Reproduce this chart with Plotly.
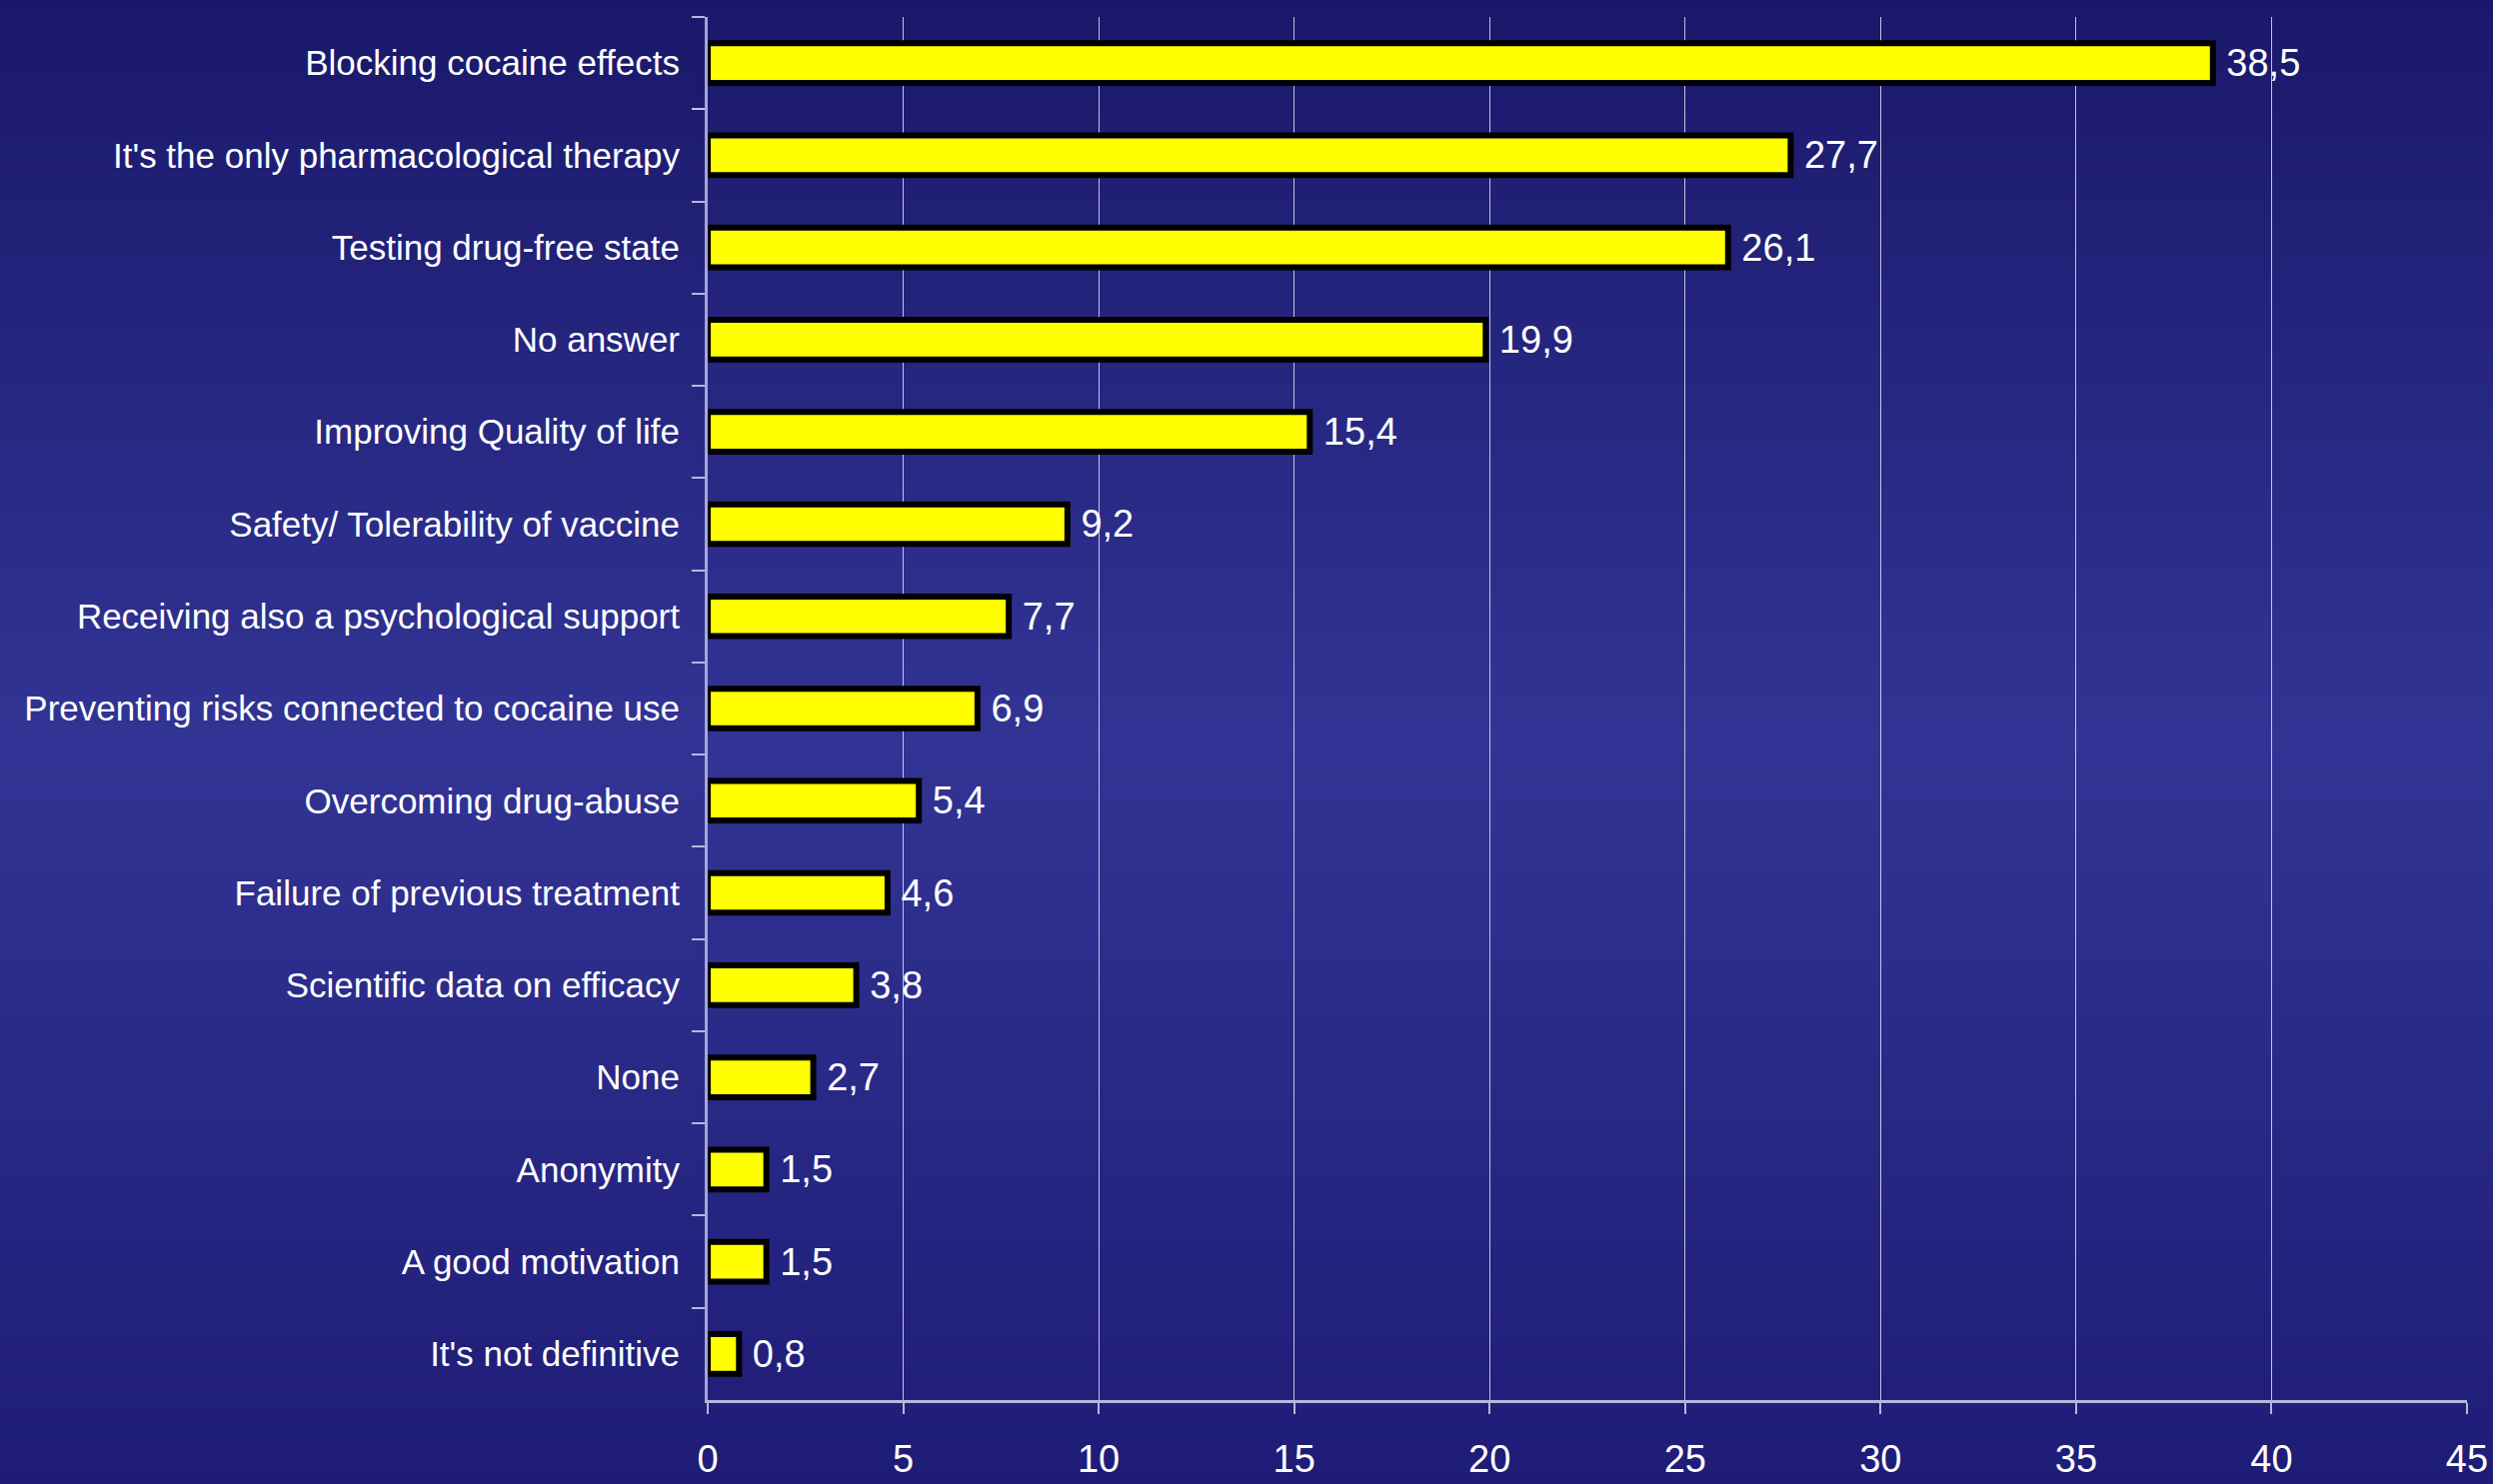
import plotly.graph_objects as go

# data (percent of answers), top to bottom
reasons = [
    "Blocking cocaine effects",
    "It's the only pharmacological therapy",
    "Testing drug-free state",
    "No answer",
    "Improving Quality of life",
    "Safety/ Tolerability of vaccine",
    "Receiving also a psychological support",
    "Preventing risks connected to cocaine use",
    "Overcoming drug-abuse",
    "Failure of previous treatment",
    "Scientific data on efficacy",
    "None",
    "Anonymity",
    "A good motivation",
    "It's not definitive",
]
percent = [38.5, 27.7, 26.1, 19.9, 15.4, 9.2, 7.7, 6.9, 5.4, 4.6, 3.8, 2.7, 1.5, 1.5, 0.8]
x_ticks = [0, 5, 10, 15, 20, 25, 30, 35, 40, 45]

W, H = 2494, 1485
ml, mr, mt, mb = 708, 26, 17, 84


def bg_color(py):
    # vertical gradient: dark navy top, lighter in middle, darker again at bottom
    stops = [(0, (25, 24, 106)), (740, (50, 52, 149)), (1485, (30, 28, 118))]
    for (y0, c0), (y1, c1) in zip(stops[:-1], stops[1:]):
        if y0 <= py <= y1:
            t = (py - y0) / (y1 - y0)
            return "rgb(%d,%d,%d)" % tuple(round(a + (b - a) * t) for a, b in zip(c0, c1))
    return "rgb(30,28,118)"


plot_h = H - mt - mb
shapes = []
step = 6
for py in range(0, H + step, step):
    y_top = (H - mb - py + 1) / plot_h
    y_bot = (H - mb - py - step - 1) / plot_h
    shapes.append(dict(type="rect", xref="paper", yref="paper", x0=-0.5, x1=1.1,
                       y0=y_bot, y1=y_top, line_width=0,
                       fillcolor=bg_color(py + step / 2), layer="below"))

fig = go.Figure()
fig.add_trace(go.Bar(
    x=percent,
    y=reasons,
    orientation="h",
    width=0.43,
    marker=dict(color="#ffff00", line=dict(color="#000000", width=6)),
    texttemplate="\u00a0%{x:.1f}",
    textposition="outside",
    constraintext="none",
    cliponaxis=False,
    textfont=dict(family="Liberation Sans, Arial", size=38, color="white"),
))

fig.update_layout(
    width=W,
    height=H,
    margin=dict(l=ml, r=mr, t=mt, b=mb, pad=0),
    paper_bgcolor="#26267f",
    plot_bgcolor="rgba(0,0,0,0)",
    separators=", ",
    showlegend=False,
    shapes=shapes,
    xaxis=dict(
        range=[0, 45],
        tickvals=x_ticks,
        automargin=False,
        showgrid=True,
        gridcolor="rgba(225,225,240,0.85)",
        gridwidth=1,
        zeroline=False,
        showline=True,
        linecolor="rgba(200,200,230,0.9)",
        linewidth=3,
        ticks="outside",
        ticklen=11,
        tickwidth=2,
        tickcolor="rgba(200,200,230,0.9)",
        ticklabelstandoff=12,
        tickfont=dict(family="Liberation Sans, Arial", size=38, color="white"),
    ),
    yaxis=dict(
        autorange="reversed",
        automargin=False,
        showgrid=False,
        zeroline=False,
        showline=True,
        linecolor="rgba(180,180,225,0.9)",
        linewidth=3,
        ticks="outside",
        ticklen=13,
        tickwidth=2,
        tickcolor="rgba(200,200,230,0.9)",
        tickson="boundaries",
        ticklabelstandoff=18,
        tickfont=dict(family="Liberation Sans, Arial", size=35, color="white"),
    ),
)

fig.write_html("out.html", config={"displayModeBar": False},
               post_script="document.body.style.margin='0';")
